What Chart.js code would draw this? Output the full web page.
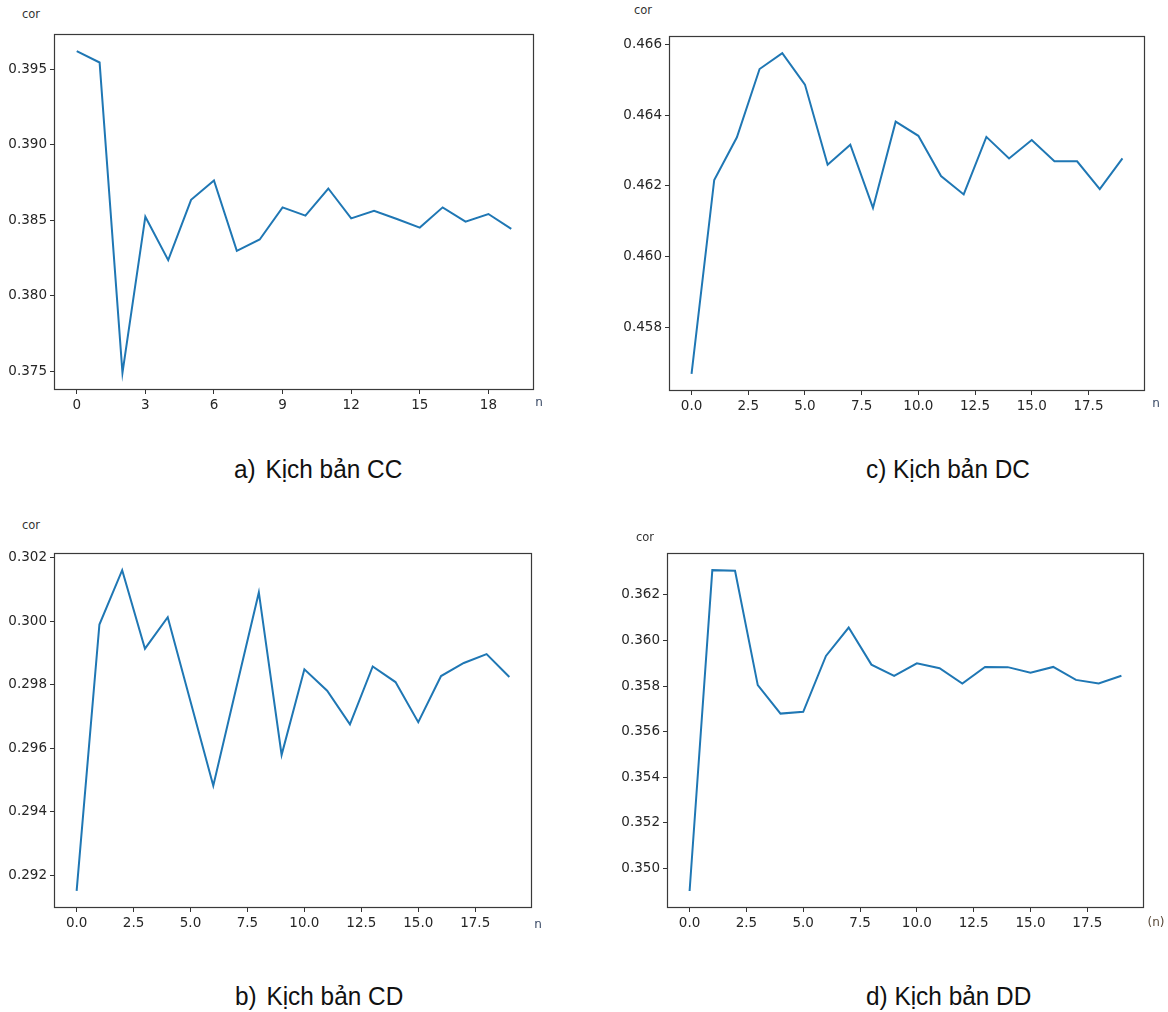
<!DOCTYPE html>
<html>
<head>
<meta charset="utf-8">
<script src="https://cdn.jsdelivr.net/npm/chart.js@4.4.1/dist/chart.umd.min.js"></script>
<style>
  html, body { margin: 0; padding: 0; background: #ffffff; }
  body { width: 1168px; height: 1012px; position: relative; overflow: hidden; }
  canvas { position: absolute; }
  .lbl { position: absolute; font-family: "DejaVu Sans", sans-serif; color: #333; transform: translate(-50%, -50%); white-space: nowrap; }
  .cap { position: absolute; font-family: "Liberation Sans", Arial, sans-serif; font-size: 25px; line-height: 25px; color: #111; white-space: nowrap; transform: scaleX(0.975); transform-origin: left top; }
</style>
</head>
<body>
<canvas id="cA" width="548" height="395" style="left:0px;top:24px;"></canvas>
<canvas id="cC" width="544" height="394" style="left:615px;top:26px;"></canvas>
<canvas id="cB" width="546" height="394" style="left:0px;top:543px;"></canvas>
<canvas id="cD" width="545" height="394" style="left:613px;top:543px;"></canvas>

<div class="lbl" style="left:31px;top:14px;font-size:11.5px;">cor</div>
<div class="lbl" style="left:643px;top:10px;font-size:11.5px;">cor</div>
<div class="lbl" style="left:31px;top:525px;font-size:11.5px;">cor</div>
<div class="lbl" style="left:645px;top:537px;font-size:11.5px;">cor</div>

<div class="lbl" style="left:539px;top:402px;font-size:12px;color:#3a4a66;">n</div>
<div class="lbl" style="left:1156px;top:403px;font-size:12px;color:#3a4a66;">n</div>
<div class="lbl" style="left:538px;top:924px;font-size:12px;color:#3a4a66;">n</div>
<div class="lbl" style="left:1156px;top:922px;font-size:12px;color:#5a4a3a;">(n)</div>

<div class="cap" style="left:234px;top:457px;">a)<span style="margin-left:10px;">Kịch bản CC</span></div>
<div class="cap" style="left:866px;top:457px;">c) Kịch bản DC</div>
<div class="cap" style="left:235px;top:984px;">b)<span style="margin-left:10px;">Kịch bản CD</span></div>
<div class="cap" style="left:866px;top:984px;">d) Kịch bản DD</div>

<script>
// ---------------- data ----------------
const nValues = [0, 1, 2, 3, 4, 5, 6, 7, 8, 9, 10, 11, 12, 13, 14, 15, 16, 17, 18, 19];

const corCC = [0.39621, 0.39546, 0.37489, 0.38524, 0.38236, 0.38636, 0.38764, 0.38298, 0.38373, 0.38586,
               0.38531, 0.38711, 0.38513, 0.38564, 0.38509, 0.38452, 0.38586, 0.38491, 0.38542, 0.38443];
const corDC = [0.45668, 0.46217, 0.46338, 0.46531, 0.46576, 0.46487, 0.46260, 0.46317, 0.46138, 0.46382,
               0.46342, 0.46228, 0.46176, 0.46339, 0.46278, 0.46330, 0.46270, 0.46270, 0.46191, 0.46278];
const corCD = [0.29151, 0.29989, 0.30160, 0.29913, 0.30012, 0.29747, 0.29482, 0.29787, 0.30090, 0.29579,
               0.29848, 0.29781, 0.29675, 0.29857, 0.29808, 0.29682, 0.29827, 0.29868, 0.29896, 0.29824];
const corDD = [0.34900, 0.36309, 0.36306, 0.35804, 0.35679, 0.35687, 0.35932, 0.36057, 0.35894, 0.35845,
               0.35900, 0.35878, 0.35811, 0.35884, 0.35883, 0.35859, 0.35884, 0.35827, 0.35811, 0.35845];

const xTicksInt = [0, 3, 6, 9, 12, 15, 18];
const xTicksHalf = [0, 2.5, 5, 7.5, 10, 12.5, 15, 17.5];

const yTicksCC = [0.375, 0.380, 0.385, 0.390, 0.395];
const yTicksDC = [0.458, 0.460, 0.462, 0.464, 0.466];
const yTicksCD = [0.292, 0.294, 0.296, 0.298, 0.300, 0.302];
const yTicksDD = [0.350, 0.352, 0.354, 0.356, 0.358, 0.360, 0.362];

// ---------------- drawing ----------------
const frame = {
  id: 'frame',
  afterDraw(chart) {
    const a = chart.chartArea, ctx = chart.ctx;
    ctx.save();
    ctx.strokeStyle = '#3a3a3a';
    ctx.lineWidth = 1.2;
    ctx.strokeRect(Math.round(a.left) - 0.5, Math.round(a.top) - 0.5,
                   Math.round(a.right - a.left) + 1, Math.round(a.bottom - a.top) + 1);
    ctx.restore();
  }
};

function makePanel(id, values, xTicks, xDec, yTicks) {
  const lo = Math.min(...values), hi = Math.max(...values);
  const m = (hi - lo) * 0.05;
  const xm = (nValues[nValues.length - 1] - nValues[0]) * 0.05;
  const tickFont = { family: 'DejaVu Sans', size: 13.5 };
  new Chart(document.getElementById(id), {
    type: 'line',
    data: {
      datasets: [{
        data: nValues.map((n, i) => ({ x: n, y: values[i] })),
        borderColor: '#1f77b4',
        borderWidth: 2,
        pointRadius: 0,
        tension: 0,
        fill: false
      }]
    },
    options: {
      responsive: false,
      animation: false,
      devicePixelRatio: 1,
      layout: { padding: { top: 10, right: 15, left: 0, bottom: 0 } },
      plugins: { legend: { display: false }, tooltip: { enabled: false } },
      scales: {
        x: {
          type: 'linear',
          min: nValues[0] - xm,
          max: nValues[nValues.length - 1] + xm,
          afterBuildTicks: s => { s.ticks = xTicks.map(v => ({ value: v })); },
          afterFit: s => { s.height = 30; },
          grid: { drawOnChartArea: false, drawTicks: true, tickLength: 5, tickColor: '#333', tickWidth: 1 },
          border: { display: false },
          ticks: { font: tickFont, color: '#262626', padding: 3, maxRotation: 0, autoSkip: false,
                   callback: v => v.toFixed(xDec) }
        },
        y: {
          type: 'linear',
          min: lo - m,
          max: hi + m,
          afterBuildTicks: s => { s.ticks = yTicks.map(v => ({ value: v })); },
          afterFit: s => { s.width = 55; },
          grid: { drawOnChartArea: false, drawTicks: true, tickLength: 5, tickColor: '#333', tickWidth: 1 },
          border: { display: false },
          ticks: { font: tickFont, color: '#262626', padding: 3, autoSkip: false,
                   callback: v => v.toFixed(3) }
        }
      }
    },
    plugins: [frame]
  });
}

makePanel('cA', corCC, xTicksInt, 0, yTicksCC);
makePanel('cC', corDC, xTicksHalf, 1, yTicksDC);
makePanel('cB', corCD, xTicksHalf, 1, yTicksCD);
makePanel('cD', corDD, xTicksHalf, 1, yTicksDD);
</script>
</body>
</html>
